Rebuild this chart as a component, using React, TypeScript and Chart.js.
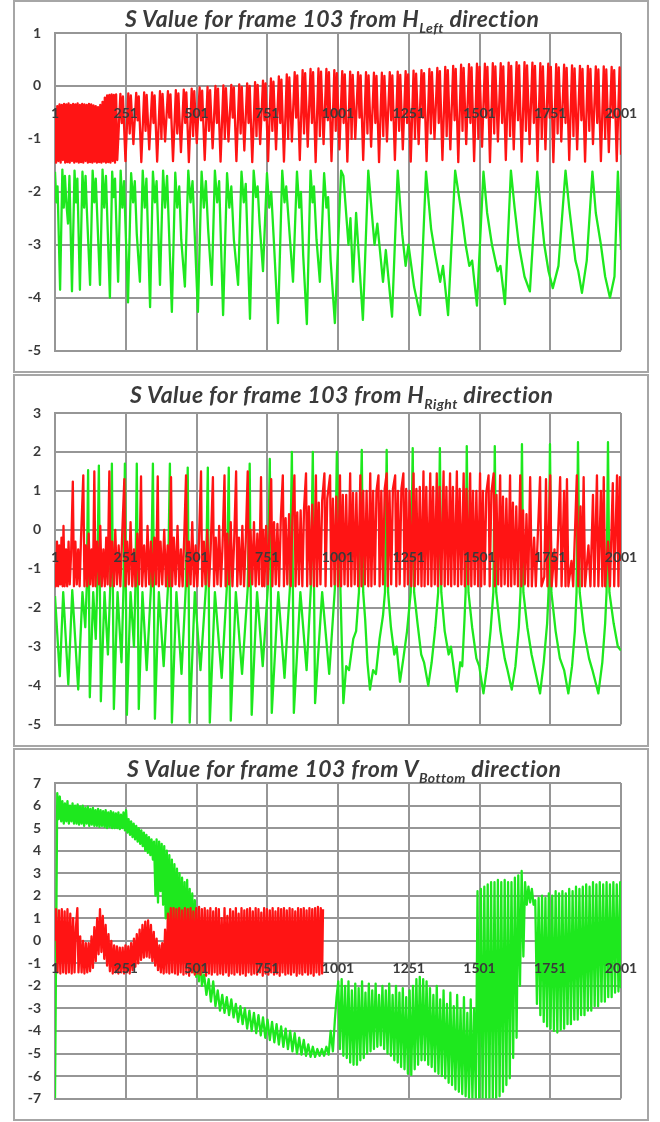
import React, { useEffect, useRef } from "react";
import { Chart, registerables } from "chart.js";

Chart.register(...registerables);

type Pt = [number, number];

const xTicks = [1, 251, 501, 751, 1001, 1251, 1501, 1751, 2001];
const titleMain = "S Value for frame 103 from ";
const titleLetters = ["H", "H", "V"];
const titleSubs = ["Left", "Right", "Bottom"];
const titleTail = " direction";
const yRanges: Pt[] = [[-5, 1], [-5, 3], [-7, 7]];

// ---------- Panel 1 : H Left ----------
const hLeftRed: Pt[] = [
  [1,-0.45],[5,-1.45],[9,-0.38],[13,-1.42],[17,-0.35],[21,-1.45],[25,-0.36],[29,-1.4],[33,-0.34],[37,-1.45],
  [41,-0.35],[45,-1.44],[49,-0.33],[53,-1.45],[57,-0.36],[61,-1.42],[65,-0.34],[69,-1.45],[73,-0.35],[77,-1.43],
  [81,-0.33],[85,-1.45],[89,-0.36],[93,-1.44],[97,-0.34],[101,-1.45],[105,-0.35],[109,-1.42],[113,-0.36],[117,-1.45],
  [121,-0.34],[125,-1.44],[129,-0.35],[133,-1.45],[137,-0.37],[141,-1.43],[145,-0.38],[149,-1.45],[153,-0.4],[157,-1.44],
  [161,-0.36],[165,-1.45],[169,-0.3],[173,-1.43],[177,-0.22],[181,-1.45],[185,-0.18],[189,-1.44],[193,-0.17],[197,-1.45],
  [201,-0.16],[205,-1.42],[209,-0.17],[213,-1.45],[217,-0.16],[221,-1.4],
  [232,-0.15],[237,-0.7],[241,-0.2],[250,-1.42],[260,-0.14],[265,-0.9],[269,-0.18],[278,-1.1],
  [288,-0.13],[293,-0.65],[297,-0.2],[306,-1.44],[316,-0.12],[321,-0.85],[325,-0.17],[334,-1.2],
  [344,-0.12],[349,-0.7],[353,-0.18],[362,-1.43],[372,-0.1],[377,-1.0],[381,-0.15],[390,-1.05],
  [400,-0.1],[405,-0.6],[409,-0.16],[418,-1.42],[428,-0.08],[433,-0.9],[437,-0.14],[446,-1.25],
  [456,-0.07],[461,-0.7],[465,-0.12],[474,-1.44],[484,-0.05],[489,-0.95],[493,-0.1],[502,-1.08],
  [512,-0.03],[517,-0.65],[521,-0.09],[530,-1.4],[540,-0.02],[545,-0.85],[549,-0.08],[558,-1.18],
  [568,0.0],[573,-0.7],[577,-0.05],[586,-1.43],[596,0.01],[601,-1.0],[605,-0.04],[614,-1.05],
  [624,0.02],[629,-0.6],[633,-0.03],[642,-1.42],[652,0.03],[657,-0.9],[661,-0.02],[670,-1.22],
  [680,0.05],[685,-0.7],[689,0.0],[698,-1.44],[708,0.07],[713,-0.95],[717,0.02],[726,-1.1],
  [736,0.1],[741,-0.65],[745,0.05],[754,-1.42],[764,0.14],[769,-0.85],[773,0.08],[782,-1.2],
  [792,0.18],[797,-0.7],[801,0.12],[810,-1.43],[820,0.22],[825,-1.0],[829,0.16],[838,-1.05],
  [848,0.26],[853,-0.6],[857,0.2],[866,-1.4],[876,0.3],[881,-0.9],[885,0.24],[894,-1.15],
  [904,0.32],[909,-0.7],[913,0.26],[922,-1.44],[932,0.33],[937,-0.95],[941,0.27],[950,-1.1],
  [960,0.32],[965,-0.65],[969,0.26],[978,-1.42],[988,0.3],[993,-0.85],[997,0.24],[1006,-1.2],
  [1016,0.28],[1021,-0.7],[1025,0.22],[1034,-1.43],[1044,0.27],[1049,-1.0],[1053,0.21],[1062,-1.0],
  [1072,0.26],[1077,-0.6],[1081,0.2],[1090,-1.4],[1100,0.26],[1105,-0.9],[1109,0.2],[1118,-1.15],
  [1128,0.25],[1133,-0.7],[1137,0.19],[1146,-1.44],[1156,0.25],[1161,-0.95],[1165,0.19],[1174,-1.05],
  [1184,0.26],[1189,-0.65],[1193,0.2],[1202,-1.4],[1212,0.27],[1217,-0.85],[1221,0.21],[1230,-1.2],
  [1240,0.28],[1245,-0.7],[1249,0.22],[1258,-1.43],[1268,0.29],[1273,-1.0],[1277,0.23],[1286,-1.1],
  [1296,0.3],[1301,-0.6],[1305,0.24],[1314,-1.42],[1324,0.32],[1329,-0.9],[1333,0.26],[1342,-1.0],
  [1352,0.34],[1357,-0.7],[1361,0.28],[1370,-1.4],[1380,0.36],[1385,-0.95],[1389,0.3],[1398,-1.2],
  [1408,0.38],[1413,-0.65],[1417,0.32],[1426,-1.44],[1436,0.4],[1441,-0.85],[1445,0.34],[1454,-1.1],
  [1464,0.41],[1469,-0.7],[1473,0.35],[1482,-1.42],[1492,0.42],[1497,-1.0],[1501,0.36],[1510,-1.15],
  [1520,0.42],[1525,-0.6],[1529,0.36],[1538,-1.44],[1548,0.43],[1553,-0.9],[1557,0.37],[1566,-1.05],
  [1576,0.43],[1581,-0.7],[1585,0.37],[1594,-1.4],[1604,0.44],[1609,-0.95],[1613,0.38],[1622,-1.2],
  [1632,0.45],[1637,-0.65],[1641,0.39],[1650,-1.43],[1660,0.45],[1665,-0.85],[1669,0.39],[1678,-1.1],
  [1688,0.44],[1693,-0.7],[1697,0.38],[1706,-1.42],[1716,0.43],[1721,-1.0],[1725,0.37],[1734,-1.2],
  [1744,0.42],[1749,-0.6],[1753,0.36],[1762,-1.44],[1772,0.41],[1777,-0.9],[1781,0.35],[1790,-1.05],
  [1800,0.4],[1805,-0.7],[1809,0.34],[1818,-1.4],[1828,0.39],[1833,-0.95],[1837,0.33],[1846,-1.2],
  [1856,0.38],[1861,-0.65],[1865,0.32],[1874,-1.43],[1884,0.38],[1889,-0.85],[1893,0.32],[1902,-1.1],
  [1912,0.37],[1917,-0.7],[1921,0.31],[1930,-1.42],[1940,0.37],[1945,-1.0],[1949,0.31],[1958,-1.25],
  [1968,0.36],[1973,-0.6],[1977,0.3],[1986,-1.42],[1996,0.35],[2001,-1.3],
];

const hLeftGreen: Pt[] = [
  [1,-1.62],[6,-2.2],[10,-1.9],[19,-3.85],[27,-1.58],[32,-2.3],[36,-1.7],[41,-2.2],[47,-2.6],[52,-1.7],
  [61,-3.88],[70,-1.6],[75,-2.2],[80,-1.75],[89,-3.85],[98,-1.62],[104,-2.3],[109,-1.7],[114,-2.4],[125,-3.76],
  [134,-1.6],[140,-2.2],[145,-1.75],[160,-3.76],[169,-1.58],[175,-2.3],[181,-1.7],[195,-4.0],[203,-1.62],[208,-2.1],
  [213,-1.75],[224,-3.7],[233,-1.6],[239,-2.3],[245,-1.8],[259,-4.09],[270,-1.65],[277,-2.2],[283,-1.8],[290,-2.8],
  [301,-3.7],[311,-1.6],[318,-2.3],[324,-1.75],[337,-4.18],[347,-1.62],[354,-2.2],[360,-1.8],[372,-3.76],[383,-1.6],
  [390,-2.3],[397,-1.7],[414,-4.27],[426,-1.64],[433,-2.3],[440,-1.9],[447,-2.9],[460,-3.79],[472,-1.6],[480,-2.2],
  [487,-1.8],[506,-4.27],[519,-1.62],[527,-2.3],[534,-1.8],[542,-2.7],[555,-3.76],[566,-1.6],[574,-2.2],[581,-1.8],
  [595,-4.33],[609,-1.65],[617,-2.3],[624,-1.9],[633,-2.9],[648,-3.76],[660,-1.62],[668,-2.2],[675,-1.85],[690,-4.4],
  [703,-1.6],[711,-2.1],[717,-1.9],[724,-2.6],[736,-3.5],[750,-1.65],[758,-2.3],[765,-2.0],[775,-3.0],[789,-4.48],
  [804,-1.6],[812,-2.2],[818,-1.9],[830,-2.8],[842,-3.7],[856,-1.62],[864,-2.3],[870,-2.0],[878,-3.2],[891,-4.5],
  [904,-1.6],[911,-2.2],[916,-1.9],[925,-2.9],[937,-3.7],[952,-1.65],[960,-2.3],[966,-2.1],[975,-3.3],[990,-4.48],
  [1012,-1.6],[1020,-1.7],[1038,-3.0],[1045,-2.5],[1054,-3.7],[1065,-2.4],[1089,-4.42],[1108,-1.6],[1130,-3.0],[1140,-2.6],
  [1160,-3.7],[1170,-3.1],[1192,-4.36],[1212,-1.6],[1228,-2.8],[1240,-3.4],[1250,-3.0],[1270,-3.8],[1291,-4.33],[1312,-1.62],
  [1330,-2.7],[1345,-3.2],[1362,-3.7],[1372,-3.4],[1390,-4.33],[1415,-1.6],[1440,-2.5],[1452,-3.0],[1465,-3.4],[1475,-3.3],
  [1492,-4.15],[1515,-1.62],[1528,-2.4],[1545,-3.0],[1565,-3.5],[1575,-3.4],[1591,-4.12],[1612,-1.6],[1625,-2.3],[1640,-3.0],
  [1660,-3.6],[1679,-3.88],[1705,-1.62],[1715,-2.2],[1730,-3.0],[1745,-3.5],[1760,-3.82],[1780,-3.4],[1805,-1.6],[1818,-2.3],
  [1840,-3.3],[1850,-3.5],[1863,-3.91],[1880,-3.3],[1900,-1.62],[1912,-2.4],[1930,-3.0],[1945,-3.6],[1962,-4.0],[1978,-3.6],
  [1990,-1.62],[2001,-3.1],
];

// ---------- Panel 2 : H Right ----------
const hRightRed: Pt[] = [
  [1,-0.9],[4,-1.45],[8,-0.3],[12,-1.45],[16,-0.4],[20,-1.4],[24,-0.2],[28,-1.45],[31,0.1],[35,-1.45],
  [40,-0.5],[44,-1.45],[49,-0.3],[53,-1.4],[58,-0.6],[64,1.24],[68,-1.45],[73,-0.3],[78,-1.4],[83,-0.5],
  [88,-1.45],[93,-0.2],[101,1.4],[105,-1.45],[110,-0.4],[115,-1.45],[120,-0.1],[125,-1.4],[130,-0.5],[135,-1.45],
  [140,1.5],[144,-1.45],[150,-0.3],[156,-1.4],[161,0.1],[166,-1.45],[172,-0.5],[177,-1.45],[182,-0.2],[187,-1.4],
  [193,1.5],[197,-1.45],[203,-0.3],[209,-1.45],[214,0.0],[220,-1.4],[226,-0.4],[232,-1.45],[238,-0.2],[246,1.3],
  [250,-1.45],[256,-0.3],[262,-1.4],[268,0.2],[274,-1.45],[280,-0.5],[286,-1.45],[292,-0.1],[298,-1.4],[305,1.37],
  [309,-1.45],[316,-0.4],[322,-1.45],[328,0.1],[334,-1.4],[340,-0.3],[346,-1.45],[352,-0.2],[358,-1.4],[364,1.37],
  [368,-1.45],[374,-0.3],[380,-1.4],[387,0.0],[393,-1.45],[399,-0.4],[405,-1.45],[411,1.35],[415,-1.45],[421,-0.2],
  [427,-1.4],[434,0.1],[440,-1.45],[446,-0.5],[452,-1.45],[458,-0.1],[464,1.4],[468,-1.45],[474,-0.3],[480,-1.4],
  [486,0.2],[492,-1.45],[498,-0.4],[504,-1.45],[510,-0.2],[517,1.5],[521,-1.45],[527,-0.3],[533,-1.4],[539,0.0],
  [545,-1.45],[551,-0.5],[559,1.35],[563,-1.45],[569,-0.2],[575,-1.4],[581,0.1],[587,-1.45],[593,-0.4],[600,1.4],
  [604,-1.45],[610,-0.1],[616,-1.4],[622,0.2],[628,-1.45],[634,-0.3],[641,1.5],[645,-1.45],[651,-0.2],[657,-1.4],
  [663,0.1],[669,-1.45],[675,-0.3],[682,1.5],[686,-1.45],[692,0.0],[698,-1.4],[704,0.2],[710,-1.45],[716,-0.1],
  [722,-1.4],[729,1.35],[733,-1.45],
  [737,0.0],[741,-1.45],[747,0.1],[753,-1.4],[759,0.0],[765,1.3],[769,-1.45],[775,0.2],[781,-1.4],[787,0.15],
  [793,-1.45],[799,0.3],[806,1.4],[810,-1.45],[816,0.3],[822,-1.4],[828,0.4],[834,-1.45],[840,0.35],[847,1.4],
  [851,-1.45],[857,0.45],[863,-1.4],[869,0.5],[875,-1.45],[881,0.55],[888,1.45],[892,-1.45],[898,0.6],[904,-1.4],
  [910,0.65],[916,-1.45],[923,1.4],[927,-1.45],[933,0.7],[939,-1.4],[945,0.75],[953,1.45],[957,-1.45],[963,0.8],
  [973,1.4],[977,-1.45],[983,0.8],[989,-1.4],[995,0.85],[1001,-1.45],[1008,1.4],[1012,-1.45],[1018,0.9],[1024,-1.4],
  [1030,0.9],[1036,-1.45],[1044,1.45],[1048,-1.45],[1054,0.95],[1060,-1.4],[1066,0.95],[1072,-1.45],[1080,1.4],[1084,-1.45],
  [1090,1.0],[1096,-1.4],[1102,1.0],[1108,-1.45],[1115,1.45],[1119,-1.45],[1125,1.0],[1131,-1.4],[1137,1.0],[1144,1.4],
  [1148,-1.45],[1154,1.0],[1160,-1.4],[1166,1.05],[1173,1.45],[1177,-1.45],[1183,1.0],[1189,-1.4],[1195,1.05],[1203,1.4],
  [1207,-1.45],[1213,1.0],[1219,-1.4],[1225,1.05],[1232,1.45],[1236,-1.45],[1242,1.05],[1248,-1.4],[1254,1.0],[1260,-1.45],
  [1268,1.45],[1272,-1.45],[1278,1.05],[1284,-1.4],[1290,1.1],[1296,-1.45],[1303,1.5],[1307,-1.45],[1313,1.1],[1319,-1.4],
  [1327,1.45],[1331,-1.45],[1337,1.1],[1343,-1.4],[1350,1.45],[1354,-1.45],[1360,1.1],[1366,-1.4],[1374,1.5],[1378,-1.45],
  [1384,1.1],[1390,-1.4],[1397,1.45],[1401,-1.45],[1407,1.1],[1413,-1.4],[1421,1.5],[1425,-1.45],[1431,1.05],[1437,-1.4],
  [1445,1.45],[1449,-1.45],[1455,1.05],[1461,-1.4],[1468,1.45],[1472,-1.45],[1478,1.0],[1484,-1.4],[1490,1.0],[1496,-1.45],
  [1503,1.45],[1507,-1.45],[1513,1.0],[1519,-1.4],[1525,0.95],[1533,1.4],[1537,-1.45],[1543,0.95],[1551,1.45],[1555,-1.45],
  [1561,0.9],[1567,-1.4],[1574,1.4],[1578,-1.45],[1584,0.85],[1590,-1.4],[1596,0.8],[1602,-1.45],[1609,1.4],[1613,-1.45],
  [1619,0.7],[1625,-1.4],[1631,0.6],[1637,-1.45],[1645,1.4],[1649,-1.45],[1655,0.5],[1661,-1.4],[1667,0.4],[1673,-1.45],
  [1680,1.35],[1686,-1.45],[1694,-0.2],[1700,-1.45],[1715,1.35],[1720,-1.45],[1730,-1.2],[1736,1.3],[1741,-1.45],[1751,1.4],
  [1756,-1.45],[1766,-0.5],[1772,-1.45],[1786,1.35],[1791,-1.45],[1800,1.0],[1805,-1.45],[1810,1.3],[1815,-1.45],[1826,-0.8],
  [1832,-1.45],[1845,1.4],[1850,-1.45],[1858,0.6],[1863,-1.45],[1869,1.35],[1874,-1.45],[1886,-0.4],[1893,-1.45],[1902,0.9],
  [1907,-1.45],[1916,1.4],[1921,-1.45],[1930,1.0],[1935,-1.45],[1940,1.35],[1945,-1.45],[1955,-0.3],[1962,-1.45],[1972,1.2],
  [1977,-1.45],[1987,1.4],[1992,-1.45],[1997,1.35],[2001,-0.8],
];

const hRightGreen: Pt[] = [
  [1,-1.7],[18,-3.76],[30,-1.6],[48,-3.97],[62,-1.55],[83,-4.1],[98,-1.6],[108,-2.5],[113,-1.5],[118,1.53],
  [124,-4.3],[136,-1.6],[145,-2.8],[150,-1.5],[156,1.65],[163,-4.4],[176,-1.6],[188,-3.2],[196,-1.5],[202,1.7],
  [209,-4.6],[222,-1.6],[236,-3.4],[243,-1.5],[248,1.7],[255,-4.75],[268,-1.6],[280,-3.0],[285,-1.5],[290,1.7],
  [297,-4.6],[310,-1.6],[325,-3.6],[340,-1.5],[347,1.7],[354,-4.85],[368,-1.6],[385,-3.5],[400,-1.5],[407,1.7],
  [414,-4.95],[430,-1.6],[448,-3.7],[463,-1.5],[470,1.6],[477,-4.95],[495,-1.6],[515,-3.6],[534,-1.5],[541,1.6],
  [548,-4.95],[566,-1.6],[590,-3.8],[608,-1.5],[615,1.6],[622,-4.9],[640,-1.6],[662,-3.7],[682,-1.5],[689,1.7],
  [696,-4.75],[715,-1.6],[735,-3.5],[753,-1.5],[760,1.82],[767,-4.7],[790,-1.6],[812,-3.8],[831,-1.5],[838,2.0],
  [845,-4.7],[868,-1.6],[890,-3.6],[905,-1.5],[912,2.0],[920,-4.45],[945,-1.6],[970,-3.7],[990,-1.5],[997,2.0],
  [1020,-4.45],[1030,-3.5],[1040,-3.6],[1055,-2.8],[1065,-2.6],[1075,-1.6],[1085,2.05],[1090,-1.6],[1097,-2.3],[1105,-3.4],
  [1114,-4.1],[1125,-3.6],[1135,-3.7],[1148,-2.8],[1160,-2.2],[1167,-1.6],[1173,2.05],[1178,-1.6],[1188,-2.5],[1200,-3.2],
  [1208,-3.0],[1220,-3.9],[1232,-3.3],[1245,-2.6],[1258,-1.6],[1265,2.1],[1270,-1.6],[1282,-2.4],[1295,-3.2],[1305,-3.4],
  [1320,-4.0],[1332,-3.4],[1345,-2.5],[1355,-1.6],[1361,2.1],[1366,-1.6],[1378,-2.6],[1392,-3.2],[1400,-3.0],[1421,-4.15],
  [1433,-3.4],[1440,-3.5],[1448,-2.3],[1452,-1.6],[1456,2.15],[1462,-1.6],[1475,-2.5],[1490,-3.3],[1500,-3.5],[1515,-4.2],
  [1528,-3.5],[1540,-2.6],[1550,-1.6],[1555,2.15],[1560,-1.6],[1575,-2.6],[1590,-3.3],[1600,-3.6],[1615,-4.1],[1628,-3.5],
  [1640,-2.5],[1646,-1.6],[1651,2.2],[1656,-1.6],[1670,-2.5],[1685,-3.2],[1700,-3.7],[1715,-4.2],[1728,-3.4],[1740,-2.4],
  [1745,-1.6],[1750,2.2],[1755,-1.6],[1770,-2.6],[1785,-3.3],[1800,-3.6],[1815,-4.2],[1828,-3.5],[1838,-2.6],[1844,-1.6],
  [1849,2.25],[1855,-1.6],[1870,-2.6],[1888,-3.3],[1900,-3.6],[1921,-4.2],[1935,-3.4],[1945,-2.4],[1950,-1.6],[1955,2.25],
  [1960,-1.6],[1975,-2.4],[1990,-3.0],[2001,-3.1],
];

// ---------- Panel 3 : V Bottom ----------
const vBottomRed: Pt[] = [
  [1,0.0],[5,1.4],[10,-1.4],[15,1.35],[20,-1.45],[25,1.4],[30,-1.4],[35,1.3],[40,-1.45],[45,1.4],
  [50,-1.4],[55,1.2],[60,-1.45],[65,1.0],[70,-1.4],[75,0.6],[80,1.45],[84,-1.4],[90,0.2],[95,-1.4],
  [100,0.0],[105,-1.45],[110,-0.1],[115,-1.4],[120,-0.1],[125,-1.35],[130,0.2],[135,-1.2],[140,0.6],[145,-0.9],
  [150,1.0],[155,-0.6],[160,1.4],[165,-0.5],[170,1.1],[175,-0.8],[180,0.7],[185,-1.1],[190,0.3],[195,-1.35],
  [200,0.0],[205,-1.45],[210,-0.2],[215,-1.4],[220,-0.25],[225,-1.45],[230,-0.3],[235,-1.4],[240,-0.3],[245,-1.45],
  [250,-0.2],[255,-1.4],[260,-0.25],[265,-1.45],[270,-0.1],[275,-1.3],[280,0.1],[285,-1.15],[290,0.3],[295,-1.0],
  [300,0.5],[305,-0.85],[310,0.7],[315,-0.75],[320,0.85],[325,-0.7],[330,0.9],[335,-0.75],[340,0.7],[345,-0.9],
  [350,0.4],[355,-1.1],[360,0.1],[365,-1.3],[370,-0.2],[375,-1.4],[380,-0.1],[385,-1.45],[390,0.5],[395,-1.4],
  [400,1.2],[405,-1.45],[410,1.45],[415,-1.4],
  [420,1.45],[425,-1.45],[430,1.4],[435,-1.5],[440,1.45],[445,-1.4],[450,1.35],[455,-1.5],[460,1.45],[465,-1.45],
  [470,1.4],[475,-1.55],[480,1.45],[485,-1.4],[490,1.3],[495,-1.5],[500,1.45],[505,-1.45],[510,1.5],[515,-1.5],
  [520,1.4],[525,-1.4],[530,1.45],[535,-1.55],[540,1.35],[545,-1.45],[550,1.45],[555,-1.5],[560,1.3],[565,-1.4],
  [570,1.45],[575,-1.5],[580,1.4],[585,-1.45],[590,1.0],[595,-1.5],[600,1.45],[605,-1.4],[610,1.1],[615,-1.55],
  [620,1.4],[625,-1.45],[630,1.3],[635,-1.5],[640,1.45],[645,-1.4],[650,1.2],[655,-1.5],[660,1.45],[665,-1.45],
  [670,1.35],[675,-1.55],[680,1.4],[685,-1.4],[690,1.45],[695,-1.5],[700,1.3],[705,-1.45],[710,1.45],[715,-1.5],
  [720,1.4],[725,-1.4],[730,1.25],[735,-1.55],[740,1.45],[745,-1.45],[750,1.4],[755,-1.5],[760,1.35],[765,-1.4],
  [770,1.45],[775,-1.5],[780,1.3],[785,-1.45],[790,1.45],[795,-1.55],[800,1.4],[805,-1.4],[810,1.45],[815,-1.5],
  [820,1.35],[825,-1.45],[830,1.45],[835,-1.5],[840,1.4],[845,-1.4],[850,1.3],[855,-1.55],[860,1.45],[865,-1.45],
  [870,1.4],[875,-1.5],[880,1.45],[885,-1.4],[890,1.35],[895,-1.5],[900,1.45],[905,-1.45],[910,1.4],[915,-1.55],
  [920,1.45],[925,-1.4],[930,1.5],[935,-1.5],[940,1.45],[945,-1.45],[948,1.4],
];

const vBottomGreen: Pt[] = [
  [1,-7.0],[9,6.55],[14,5.4],[18,6.4],[23,5.3],[27,6.2],[32,5.2],[36,6.1],[41,5.3],[45,6.2],
  [50,5.2],[54,6.0],[59,5.3],[63,6.1],[68,5.2],[72,6.0],[77,5.2],[81,6.05],[86,5.15],[90,5.95],
  [95,5.2],[99,6.0],[104,5.1],[108,5.9],[113,5.2],[117,5.95],[122,5.1],[126,5.85],[131,5.15],[135,5.9],
  [140,5.1],[144,5.8],[149,5.1],[153,5.85],[158,5.05],[162,5.8],[167,5.1],[171,5.75],[176,5.05],[180,5.8],
  [185,5.0],[189,5.7],[194,5.05],[198,5.75],[203,5.0],[207,5.7],[212,5.0],[216,5.65],[221,5.0],[225,5.7],
  [230,4.95],[234,5.6],[239,5.0],[243,5.7],[248,4.9],[252,5.8],[257,4.8],[261,5.4],[266,4.7],[270,5.3],
  [275,4.6],[279,5.2],[284,4.5],[288,5.1],[293,4.4],[297,5.0],[302,4.3],[306,4.9],[311,4.2],[315,4.8],
  [320,4.0],[324,4.7],[329,3.9],[333,4.6],[338,3.8],[342,4.5],[347,3.6],[351,4.4],[356,2.0],[360,4.5],
  [365,1.7],[369,4.4],[374,2.2],[378,4.3],[383,1.6],[387,4.2],[392,1.0],[396,4.0],[401,0.5],[405,3.8],
  [410,0.3],[414,3.6],[419,0.2],[423,3.4],[428,0.0],[432,3.2],[437,-0.2],[441,3.0],[446,-0.4],[450,2.8],
  [455,-0.6],[459,2.6],[464,-0.8],[468,2.7],[473,-1.0],[477,2.3],[482,-1.2],[486,2.1],[491,-1.4],[495,1.8],
  [500,-1.6],[505,0.8],[510,-1.8],[515,0.2],[520,-2.0],[528,-1.5],[536,-2.4],[544,-1.7],[552,-2.7],[560,-1.8],
  [568,-2.9],[576,-2.2],[584,-3.1],[592,-2.4],[600,-3.2],[608,-2.5],[616,-3.3],[624,-2.6],[632,-3.4],[640,-2.8],
  [648,-3.6],[656,-2.9],[664,-3.7],[672,-3.0],[680,-3.9],[688,-3.1],[696,-4.0],[704,-3.2],[712,-4.1],[720,-3.3],
  [728,-4.2],[736,-3.4],[744,-4.3],[752,-3.5],[760,-4.4],[768,-3.6],[776,-4.5],[784,-3.7],[792,-4.6],[800,-3.8],
  [808,-4.7],[816,-3.9],[824,-4.8],[832,-4.0],[840,-4.9],[848,-4.1],[856,-5.0],[864,-4.3],[872,-5.05],[880,-4.4],
  [888,-5.1],[896,-4.6],[904,-5.15],[912,-4.7],[920,-5.15],[928,-4.8],[936,-5.1],[944,-4.8],[952,-5.1],[960,-4.7],
  [968,-5.05],[975,-4.0],[983,-4.9],[990,-3.5],[996,-2.5],[1002,-1.8],
  [1008,-4.8],[1014,-1.7],[1020,-5.1],[1026,-2.0],[1032,-5.2],[1038,-1.8],[1044,-5.4],[1050,-2.2],[1056,-5.5],[1062,-1.9],
  [1068,-5.5],[1074,-2.1],[1080,-5.3],[1086,-1.8],[1092,-5.2],[1098,-2.3],[1104,-5.0],[1110,-1.9],[1116,-4.9],[1122,-2.2],
  [1128,-4.8],[1134,-1.9],[1140,-4.7],[1146,-2.4],[1152,-4.64],[1158,-2.0],[1164,-4.8],[1170,-2.2],[1176,-5.0],[1182,-1.9],
  [1188,-5.1],[1194,-2.4],[1200,-5.3],[1206,-2.0],[1212,-5.4],[1218,-2.3],[1224,-5.6],[1230,-2.1],[1236,-5.7],[1242,-2.5],
  [1248,-5.9],[1254,-2.2],[1260,-5.95],[1266,-2.0],[1272,-5.7],[1278,-1.7],[1284,-5.5],[1290,-1.6],[1296,-5.3],[1302,-1.7],
  [1308,-5.3],[1314,-1.8],[1320,-5.5],[1326,-2.1],[1332,-5.6],[1338,-2.4],[1344,-5.8],[1350,-2.0],[1356,-5.9],[1362,-2.6],
  [1368,-6.0],[1374,-2.2],[1380,-6.1],[1386,-2.8],[1392,-6.3],[1398,-2.3],[1404,-6.4],[1410,-2.9],[1416,-6.6],[1422,-2.4],
  [1428,-6.7],[1434,-3.0],[1440,-6.8],[1446,-2.5],[1452,-6.9],[1458,-3.2],[1464,-7.0],[1470,-2.6],[1476,-7.0],[1482,-3.0],
  [1488,-7.0],[1494,2.2],[1500,-7.0],[1506,2.3],[1512,-7.0],[1518,2.4],[1524,-7.0],[1530,2.5],[1536,-7.0],[1542,2.6],
  [1548,-7.0],[1554,2.6],[1560,-7.0],[1566,2.7],[1572,-6.9],[1578,2.6],[1584,-6.7],[1590,2.7],[1596,-6.4],[1602,2.6],
  [1608,-6.1],[1614,2.6],[1620,-5.2],[1626,2.8],[1632,-4.3],[1638,2.9],[1644,-2.0],[1650,3.1],[1656,-0.7],[1662,2.6],
  [1668,1.6],[1674,2.4],[1680,1.7],[1686,2.3],[1692,1.6],[1698,1.8],[1704,-2.8],[1710,1.9],[1716,-3.3],[1722,2.0],
  [1728,-3.6],[1734,1.9],[1740,-3.8],[1746,2.1],[1752,-3.9],[1758,2.0],[1764,-4.0],[1770,2.2],[1776,-4.07],[1782,2.1],
  [1788,-3.95],[1794,2.2],[1800,-3.9],[1806,2.1],[1812,-3.7],[1818,2.3],[1824,-3.7],[1830,2.2],[1836,-3.5],[1842,2.4],
  [1848,-3.5],[1854,2.3],[1860,-3.3],[1866,2.4],[1872,-3.3],[1878,2.5],[1884,-3.1],[1890,2.4],[1896,-3.1],[1902,2.6],
  [1908,-2.9],[1914,2.5],[1920,-2.9],[1926,2.6],[1932,-2.7],[1938,2.5],[1944,-2.7],[1950,2.6],[1956,-2.5],[1962,2.5],
  [1968,-2.5],[1974,2.6],[1980,-2.3],[1986,2.5],[1992,-2.25],[1998,2.6],[2001,-2.1],
];

const redSeries = [hLeftRed, hRightRed, vBottomRed];
const greenSeries = [hLeftGreen, hRightGreen, vBottomGreen];

const RED = "#ff1414";
const GREEN = "#1ee81e";
const GRID = "#969696";
const TEXT = "#3a3a3a";
const FONT = "Lato, 'Open Sans', sans-serif";

interface Geo {
  top: number;
  height: number;
  plotTop: number;
  plotBottom: number;
  titleLeft: number;
  titleTop: number;
}

const geos: Geo[] = [
  { top: 0, height: 373, plotTop: 33, plotBottom: 363, titleLeft: 125, titleTop: 5 },
  { top: 374, height: 373, plotTop: 413, plotBottom: 738, titleLeft: 130, titleTop: 381 },
  { top: 748, height: 373, plotTop: 783, plotBottom: 1112, titleLeft: 127, titleTop: 755 },
];

const toPoints = (pts: Pt[]) => pts.map(([x, y]) => ({ x, y }));

function Panel({ idx }: { idx: number }) {
  const ref = useRef<HTMLCanvasElement | null>(null);
  const g = geos[idx];
  useEffect(() => {
    if (!ref.current) return;
    const [yMin, yMax] = yRanges[idx];
    const tickFont = { family: FONT, size: 14, weight: "bold" as const };
    const lineDs = (pts: Pt[], color: string) => ({
      data: toPoints(pts),
      borderColor: color,
      borderWidth: 2.3,
      borderJoinStyle: "round" as const,
      pointRadius: 0,
      tension: 0,
      fill: false,
    });
    const chart = new Chart(ref.current, {
      type: "line",
      data: {
        datasets: [lineDs(redSeries[idx], RED), lineDs(greenSeries[idx], GREEN)],
      },
      options: {
        responsive: false,
        animation: false,
        devicePixelRatio: 1,
        events: [],
        layout: {
          padding: {
            left: 0,
            right: 660 - 621,
            top: g.plotTop - g.top,
            bottom: g.top + g.height - g.plotBottom,
          },
        },
        plugins: {
          legend: { display: false },
          tooltip: { enabled: false },
          title: { display: false },
        },
        scales: {
          x: {
            type: "linear",
            min: 1,
            max: 2001,
            position: { y: 0 } as any,
            afterBuildTicks: (s: any) => {
              s.ticks = xTicks.map((v) => ({ value: v }));
            },
            ticks: {
              autoSkip: false,
              maxRotation: 0,
              padding: 19,
              z: 1,
              font: tickFont,
              color: TEXT,
              callback: (v: any) => String(v),
            },
            grid: { color: GRID, lineWidth: 2, drawTicks: false },
            border: { display: true, color: GRID, width: 2 },
          },
          y: {
            type: "linear",
            min: yMin,
            max: yMax,
            afterFit: (s: any) => {
              s.width = 55;
            },
            ticks: {
              stepSize: 1,
              padding: 14,
              font: tickFont,
              color: TEXT,
              callback: (v: any) => String(v),
            },
            grid: { color: GRID, lineWidth: 2, drawTicks: false },
            border: { display: true, color: GRID, width: 2 },
          },
        },
      } as any,
    });
    return () => chart.destroy();
  }, [idx]);

  return (
    <>
      <div
        style={{
          position: "absolute",
          left: 13,
          top: g.top,
          width: 636,
          height: g.height,
          border: "2px solid #a6a6a6",
          boxSizing: "border-box",
        }}
      />
      <canvas
        ref={ref}
        width={660}
        height={g.height}
        style={{ position: "absolute", left: 0, top: g.top, width: 660, height: g.height }}
      />
      <div
        style={{
          position: "absolute",
          left: g.titleLeft,
          top: g.titleTop,
          fontFamily: FONT,
          fontSize: 23,
          lineHeight: "26px",
          fontWeight: "bold",
          fontStyle: "italic",
          letterSpacing: 0.45,
          color: TEXT,
          whiteSpace: "nowrap",
        }}
      >
        {titleMain}
        {titleLetters[idx]}
        <span style={{ fontSize: 14, verticalAlign: -6 }}>{titleSubs[idx]}</span>
        {titleTail}
      </div>
    </>
  );
}

export default function App() {
  return (
    <div
      style={{
        position: "absolute",
        left: 0,
        top: 0,
        width: 660,
        height: 1122,
        background: "#ffffff",
        overflow: "hidden",
      }}
    >
      <Panel idx={0} />
      <Panel idx={1} />
      <Panel idx={2} />
    </div>
  );
}
